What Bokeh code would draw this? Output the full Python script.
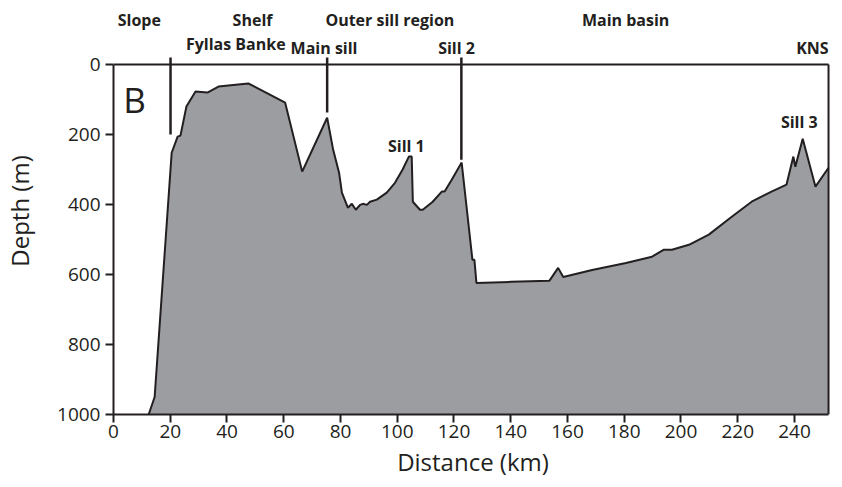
from bokeh.plotting import figure
from bokeh.models import Range1d, FixedTicker
from bokeh.embed import file_html
from bokeh.resources import INLINE
from bokeh.core.properties import value

# ---- data ----
distance_km = [12.4, 14.5, 20.5, 22.6, 23.6, 25.7, 28.9, 33.1, 37.0, 47.5,
               60.5, 66.5, 75.3, 77.4, 79.5, 80.5, 82.6, 84.0, 85.4, 86.9,
               87.9, 89.3, 90.4, 92.8, 96.3, 99.2, 101.9, 104.1, 105.1, 105.5,
               108.0, 109.0, 112.5, 115.7, 116.7, 119.2, 122.7, 126.5, 127.2, 127.9,
               140.0, 153.6, 156.7, 158.5, 168.7, 180.6, 189.8, 194.0, 196.8, 202.8,
               209.8, 217.9, 224.9, 231.9, 237.2, 239.6, 240.3, 242.9, 247.4, 252.0]
depth_m = [1000, 950, 252, 206, 203, 120, 77, 80, 63, 54,
           109, 306, 152, 243, 309, 366, 409, 398, 415, 401,
           398, 401, 392, 386, 366, 338, 300, 263, 263, 392,
           415, 415, 392, 363, 363, 329, 280, 558, 558, 624,
           621, 618, 581, 607, 587, 567, 549, 529, 529, 515,
           486, 435, 392, 363, 343, 263, 292, 212, 349, 295]

x_ticks = [0, 20, 40, 60, 80, 100, 120, 140, 160, 180, 200, 220, 240]
y_ticks = [0, 200, 400, 600, 800, 1000]
x_max = 252
y_max = 1000

region_labels = ["Slope", "Shelf", "Outer sill region", "Main basin"]
region_km = [9.1, 49.0, 97.4, 180.5]
feature_labels = ["Main sill", "Sill 2", "KNS"]
feature_km = [74.2, 120.9, 246.3]
marker_km = [20.1, 75.3, 122.6]
marker_bottom_m = [200, 137, 272]

INK = "#231f20"
FILL = "#9c9da1"
FONT = "Open Sans"

p = figure(width=832, height=480,
           x_range=Range1d(0, 253.4), y_range=Range1d(1000, -163),
           output_backend="svg", toolbar_location=None,
           min_border_left=111, min_border_right=0,
           min_border_top=7, min_border_bottom=66)
p.outline_line_color = None
p.grid.visible = False
p.background_fill_color = "white"

# profile
poly_x = distance_km + [x_max, distance_km[0]]
poly_y = depth_m + [y_max, y_max]
p.patch(poly_x, poly_y, fill_color=FILL, line_color=None)
p.line(distance_km, depth_m, line_color=INK, line_width=2)

# frame top/right
p.segment(x0=[0, x_max], y0=[0, 0], x1=[x_max, x_max], y1=[0, y_max],
          line_color=INK, line_width=2)

# marker lines
p.segment(x0=marker_km, y0=[-20] * len(marker_km), x1=marker_km, y1=marker_bottom_m,
          line_color=INK, line_width=2.5)

# labels
p.text(x=region_km, y=[-126] * len(region_km), text=region_labels,
       text_font=value(FONT), text_font_style="bold", text_font_size="16px",
       text_align="center", text_baseline="middle", text_color=INK)
p.text(x=[43.1], y=[-60], text=["Fyllas Banke"],
       text_font=value(FONT), text_font_style="bold", text_font_size="16px",
       text_align="center", text_baseline="middle", text_color=INK)
p.text(x=feature_km, y=[-48] * len(feature_km), text=feature_labels,
       text_font=value(FONT), text_font_style="bold", text_font_size="16px",
       text_align="center", text_baseline="middle", text_color=INK)
p.text(x=[103.2, 241.7], y=[233, 164], text=["Sill 1", "Sill 3"],
       text_font=value(FONT), text_font_style="bold", text_font_size="16px",
       text_align="center", text_baseline="middle", text_color=INK)
p.text(x=[3.4], y=[100], text=["B"],
       text_font=value(FONT), text_font_size="35px",
       text_align="left", text_baseline="alphabetic", text_color=INK)

# axes
for ax in (p.xaxis[0], p.yaxis[0]):
    ax.axis_line_color = INK
    ax.axis_line_width = 2
    ax.major_tick_line_color = INK
    ax.major_tick_line_width = 2
    ax.major_tick_out = 8
    ax.major_tick_in = 0
    ax.minor_tick_line_color = None
    ax.major_label_text_font = FONT
    ax.major_label_text_font_size = "19px"
    ax.major_label_text_color = INK
    ax.axis_label_text_font = FONT
    ax.axis_label_text_font_size = "24px"
    ax.axis_label_text_font_style = "normal"
    ax.axis_label_text_color = INK

p.xaxis.bounds = (0, x_max)
p.yaxis.bounds = (0, y_max)
p.xaxis.ticker = FixedTicker(ticks=x_ticks)
p.yaxis.ticker = FixedTicker(ticks=y_ticks)
p.xaxis.axis_label = "Distance (km)"
p.yaxis.axis_label = "Depth (m)"
p.xaxis.major_label_standoff = 2
p.yaxis.major_label_standoff = 5
p.xaxis.axis_label_standoff = 4
p.yaxis.axis_label_standoff = 18

open("out.html", "w").write(file_html(p, INLINE))
